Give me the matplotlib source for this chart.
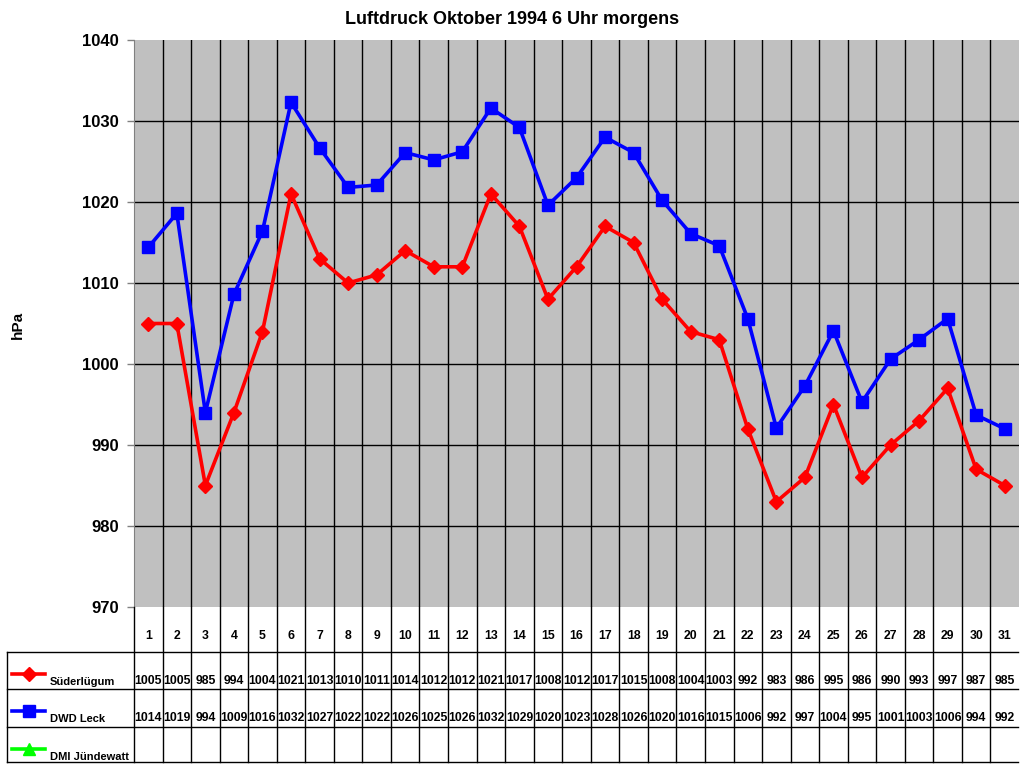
import matplotlib.pyplot as plt
import numpy as np

# Luftdruck Oktober 1994, 6 Uhr morgens
days = list(range(1, 32))
suederluegum = [1005, 1005, 985, 994, 1004, 1021, 1013, 1010, 1011, 1014, 1012, 1012, 1021, 1017, 1008, 1012,
                1017, 1015, 1008, 1004, 1003, 992, 983, 986, 995, 986, 990, 993, 997, 987, 985]
dwd_leck = [1014.4, 1018.6, 994.0, 1008.6, 1016.4, 1032.3, 1026.7, 1021.8, 1022.1, 1026.1, 1025.2, 1026.2,
            1031.6, 1029.2, 1019.6, 1023.0, 1028.0, 1026.1, 1020.2, 1016.1, 1014.6, 1005.6, 992.1, 997.3,
            1004.1, 995.3, 1000.6, 1003.0, 1005.6, 993.7, 992.0]
series_names = ['Süderlügum', 'DWD Leck', 'DMI Jündewatt']
colors = ['#ff0000', '#0000ff', '#00ff00']
markers = ['D', 's', '^']

W, H = 1024, 768
fig = plt.figure(figsize=(W / 100, H / 100), dpi=100)

def fx(px):
    return px / W

def fy(py):
    return 1 - py / H

x0, x1, ytop, ybot = 134, 1019, 40, 607
ax = fig.add_axes([fx(x0), fy(ybot), fx(x1) - fx(x0), fy(ytop) - fy(ybot)])
ax.set_facecolor('#c0c0c0')
ax.set_xlim(0.5, 31.5)
ax.set_ylim(970, 1040)
ax.set_yticks(np.arange(970, 1041, 10))
ax.set_yticklabels([str(v) for v in range(970, 1041, 10)], fontsize=12, fontweight='bold',
                   family='Liberation Sans')
ax.set_xticks([])
for d in np.arange(1.5, 31.5, 1):
    ax.axvline(d, color='black', lw=1, zorder=1)
for v in range(980, 1040, 10):
    ax.axhline(v, color='black', lw=1, zorder=1)
for s in ['top', 'right', 'bottom']:
    ax.spines[s].set_visible(False)
ax.spines['left'].set_color('#808080')
ax.tick_params(axis='y', color='#808080', length=5, width=1, pad=6)

ax.plot(days, suederluegum, color=colors[0], lw=2.6, marker=markers[0], ms=7.5, zorder=3)
ax.plot(days, dwd_leck, color=colors[1], lw=2.6, marker=markers[1], ms=9, zorder=3)

fig.text(0.5, fy(20), 'Luftdruck Oktober 1994 6 Uhr morgens', ha='center', va='center',
         fontsize=13, fontweight='bold', family='Liberation Sans')
fig.text(fx(18), fy(325), 'hPa', rotation=90, ha='center', va='center',
         fontsize=11, fontweight='bold', family='Liberation Sans')

# data table below the chart
colw = (x1 - x0) / 31
tleft = 7
tx_left = 0.5 - (x0 - tleft) / colw
tab = fig.add_axes([fx(tleft), fy(762), fx(x1) - fx(tleft), fy(607) - fy(762)])
tab.set_xlim(tx_left, 31.5)
tab.set_ylim(155, 0)
tab.axis('off')
rows = [0, 45, 82, 120, 155]
lk = dict(color='black', lw=1, clip_on=False)
tab.plot([0.5, 0.5], [0, 155], **lk)
tab.plot([tx_left, tx_left], [45, 155], **lk)
for d in np.arange(1.5, 31.5, 1):
    tab.plot([d, d], [0, 155], **lk)
for r in rows[1:]:
    tab.plot([tx_left, 31.45], [r, r], **lk)

tfont = dict(family=['Liberation Sans Narrow', 'Liberation Sans'], fontweight='bold', fontsize=8.8)
for d in days:
    tab.text(d, 29, str(d), ha='center', va='center', **tfont)
    tab.text(d, 74, str(suederluegum[d - 1]), ha='center', va='center', **tfont)
    tab.text(d, 111, str(round(dwd_leck[d - 1])), ha='center', va='center', **tfont)

lab_x = tx_left + (50 - tleft) / colw
sample = [tx_left + (12 - tleft) / colw, tx_left + (45 - tleft) / colw]
for i, name in enumerate(series_names):
    ytext = rows[i + 1] + 30
    ymark = rows[i + 1] + 22
    tab.plot(sample, [ymark, ymark], color=colors[i], lw=2.6, clip_on=False)
    tab.plot([np.mean(sample)], [ymark], color=colors[i], marker=markers[i],
             ms=[7.5, 9, 9][i], clip_on=False)
    tab.text(lab_x, ytext, name, ha='left', va='center', fontsize=8, fontweight='bold',
             family='Liberation Sans')

fig.savefig('out.png', dpi=100)
